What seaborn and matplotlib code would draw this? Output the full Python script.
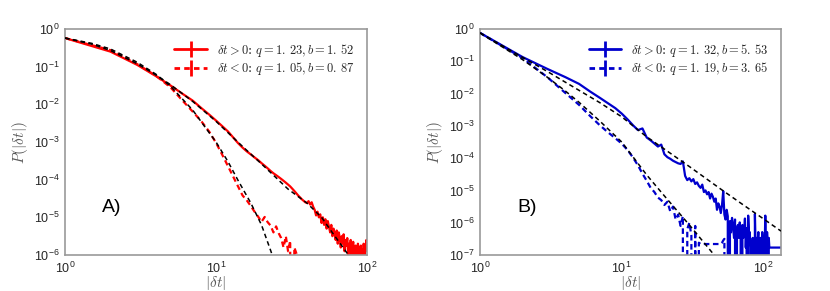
import numpy as np
import seaborn as sns
import matplotlib
matplotlib.use("Agg")
import matplotlib.pyplot as plt
from matplotlib.lines import Line2D
from matplotlib.ticker import NullFormatter

# values, as log10 P(|dt|); None = empty bin (P = 0)
a_pos_x = list(range(1, 101))
a_pos_log = [
    -0.24, -0.60, -0.95, -1.25, -1.50, -1.72, -1.90, -2.10, -2.27, -2.43,
    -2.58, -2.72, -2.88, -3.03, -3.15, -3.25, -3.33, -3.41, -3.48, -3.56,
    -3.63, -3.70, -3.77, -3.83, -3.88, -3.93, -3.98, -4.03, -4.08, -4.13,
    -4.18, -4.24, -4.30, -4.36, -4.42, -4.47, -4.52, -4.56, -4.60, -4.62,
    -4.57, -4.66, -4.60, -4.72, -4.80, -4.95, -4.85, -5.00, -4.92, -5.15,
    -5.00, -5.20, -5.05, -5.30, -5.10, -5.25, -5.40, -5.20, -5.50, -5.30,
    -5.45, -5.60, -5.35, -5.70, -5.40, -5.55, -5.80, -5.50, -5.70, -5.45,
    -5.90, -5.60, -5.75, -5.55, -6.00, -5.70, -5.85, -5.60, None, -5.80,
    -5.65, -5.90, None, -5.75, -5.90, None, -5.70, -5.85, None, -5.90,
    -5.75, None, -5.85, None, -5.70, None, -5.80, -5.90, -5.60, -5.75,
]
a_neg_x = list(range(1, 36))
a_neg_log = [
    -0.24, -0.56, -0.93, -1.24, -1.55, -1.90, -2.19, -2.45, -2.72, -3.02,
    -3.34, -3.64, -3.92, -4.18, -4.42, -4.55, -4.70, -4.85, -4.98, -5.12,
    -4.99, -5.13, -5.22, -5.40, -5.24, -5.42, -5.55, -5.80, -5.50, -5.90,
    -5.62, None, -5.80, -5.95, None,
]
a_fit_pos_x = [1, 1.5, 2, 3, 4, 5, 7, 10, 15, 20, 30, 40, 50, 60, 70, 80]
a_fit_pos_log = [-0.24, -0.40, -0.57, -0.92, -1.22, -1.48, -1.92, -2.45, -3.12,
                 -3.58, -4.25, -4.62, -5.00, -5.45, -5.82, -6.15]
a_fit_neg_x = [1, 1.5, 2, 3, 4, 5, 7, 10, 12, 14, 17, 20, 23, 25]
a_fit_neg_log = [-0.24, -0.38, -0.53, -0.88, -1.20, -1.52, -2.15, -3.00, -3.52,
                 -4.02, -4.62, -5.20, -5.88, -6.30]

b_pos_x = list(range(1, 134))
b_pos_log = [
    -0.12, -0.87, -1.24, -1.49, -1.70, -1.94, -2.13, -2.30, -2.45, -2.62,
    -2.80, -2.98, -3.13, -3.08, -3.36, -3.45, -3.55, -3.64, -3.58, -3.88,
    -3.97, -4.02, -4.08, -4.12, -4.16, -4.18, -4.10, -4.55, -4.68, -4.62,
    -4.72, -4.65, -4.80, -4.75, -4.86, -4.92, -4.82, -5.05, -5.00, -5.12,
    -5.05, -5.25, -5.10, -5.20, -5.35, -5.25, -5.60, -5.40, -5.50, -5.70,
    -5.45, -5.02, -5.75, -5.90, -5.60, -5.80, None, -5.95, -6.30, -5.85,
    -6.10, -6.47, -5.90, None, -6.17, -6.07, -6.47, -5.99, -6.29, None,
    -6.07, -6.47, -6.29, -5.87, -6.77, -6.17, None, -5.78, -6.47, -6.29,
    -6.77, None, -6.77, -6.47, -6.77, None, -5.73, -6.77, -6.47, None,
    -6.77, -6.29, None, -6.77, -6.47, -6.77, None, -6.29, -6.77, -6.47,
    None, -6.77, -5.78, -6.77, None, -6.29, -6.77, None, -6.47, -6.77,
    -6.77, -6.77, -6.77, -6.77, -6.77, -6.77, -6.77, -6.77, -6.77, -6.77,
    -6.77, -6.77, -6.77, -6.77, -6.77, -6.77, -6.77, -6.77, -6.77, -6.77,
    -6.77, -6.77, -6.77,
]
b_neg_x = list(range(1, 55))
b_neg_log = [
    -0.12, -0.90, -1.50, -1.98, -2.35, -2.70, -2.98, -3.20, -3.38, -3.55,
    -3.75, -3.98, -4.22, -4.48, -4.70, -4.92, -5.05, -5.22, -5.30, -5.45,
    -5.35, -5.65, -5.50, -5.90, -5.75, -6.10, -5.80, None, -6.20, -6.00,
    -6.40, None, -6.10, None, -6.62, -6.66, -6.66, -6.66, -6.66, -6.66,
    -6.66, -6.66, -6.66, -6.66, -6.66, -6.66, -6.66, -6.66, -6.66, -6.66,
    -6.62, -6.55, -6.50, None,
]
b_fit_pos_x = [1, 2, 3, 5, 7, 10, 13, 15, 20, 30, 50, 70, 100, 133]
b_fit_pos_log = [-0.12, -0.88, -1.32, -1.90, -2.28, -2.72, -3.12, -3.34, -3.72,
                 -4.26, -4.96, -5.41, -5.88, -6.26]
b_fit_neg_x = [1, 2, 3, 4, 5, 7, 10, 15, 20, 30, 43, 50]
b_fit_neg_log = [-0.12, -0.95, -1.50, -1.92, -2.27, -2.85, -3.50, -4.52, -5.17,
                 -6.07, -6.90, -7.25]

labels_a = [r'$\delta t>0$: $q=1.\,23, b=1.\,52$',
            r'$\delta t<0$: $q=1.\,05, b=0.\,87$']
labels_b = [r'$\delta t>0$: $q=1.\,32, b=5.\,53$',
            r'$\delta t<0$: $q=1.\,19, b=3.\,65$']
xticks_a = [1, 10, 100]
yticks_a = [1e-6, 1e-5, 1e-4, 1e-3, 1e-2, 1e-1, 1]
xticks_b = [1, 10, 100]
yticks_b = [1e-7, 1e-6, 1e-5, 1e-4, 1e-3, 1e-2, 1e-1, 1]


def prob(logs):
    # empty bins become 0, the log axis clips them below the frame
    return np.array([0.0 if v is None else 10.0 ** v for v in logs])


sns.set_style("white")
plt.rcParams['font.family'] = ['Liberation Sans', 'DejaVu Sans']
plt.rcParams['mathtext.fontset'] = 'cm'

fig = plt.figure(figsize=(8.3, 2.91), dpi=100)
ax_a = fig.add_axes([0.0783, 0.1237, 0.3639, 0.7766])
ax_b = fig.add_axes([0.5783, 0.1237, 0.3627, 0.7766])

panels = [
    (ax_a, 'red', a_pos_x, a_pos_log, a_neg_x, a_neg_log,
     a_fit_pos_x, a_fit_pos_log, a_fit_neg_x, a_fit_neg_log,
     (1, 100), (1e-6, 1), xticks_a, yticks_a, labels_a, 'A)'),
    (ax_b, '#0000cd', b_pos_x, b_pos_log, b_neg_x, b_neg_log,
     b_fit_pos_x, b_fit_pos_log, b_fit_neg_x, b_fit_neg_log,
     (1, 133), (1e-7, 1), xticks_b, yticks_b, labels_b, 'B)'),
]

for (ax, col, px, plog, nx, nlog, fpx, fplog, fnx, fnlog,
     xlim, ylim, xt, yt, labels, tag) in panels:
    sns.lineplot(x=px, y=prob(plog), ax=ax, color=col, lw=1.6,
                 estimator=None, sort=False, legend=False)
    sns.lineplot(x=nx, y=prob(nlog), ax=ax, color=col, lw=1.6,
                 linestyle=(0, (2.5, 1.6)), estimator=None, sort=False,
                 legend=False)
    for fx, flog in [(fpx, fplog), (fnx, fnlog)]:
        sns.lineplot(x=fx, y=prob(flog), ax=ax, color='black', lw=1.1,
                     linestyle=(0, (3, 2.2)), estimator=None, sort=False,
                     legend=False, zorder=3)

    ax.set_xscale('log', nonpositive='clip')
    ax.set_yscale('log', nonpositive='clip')
    ax.set_xticks(xt)
    ax.set_yticks(yt)
    ax.set_xlim(*xlim)
    ax.set_ylim(*ylim)
    ax.xaxis.set_minor_formatter(NullFormatter())
    ax.yaxis.set_minor_formatter(NullFormatter())
    ax.tick_params(which='both', length=0, labelsize=9, colors='0.15',
                   pad=4)
    for s in ax.spines.values():
        s.set_color('0.6')
        s.set_linewidth(1.2)
    ax.set_xlabel(r'$|\delta t|$', fontsize=11, color='0.35')
    ax.set_ylabel(r'$P(|\delta t|)$', fontsize=11, color='0.35')
    ax.xaxis.set_label_coords(0.5, -0.085)
    ax.yaxis.set_label_coords(-0.115, 0.5)

    handles = [
        Line2D([], [], color=col, lw=2, marker='|', markersize=12,
               markeredgewidth=2),
        Line2D([], [], color=col, lw=2, linestyle=(0, (2, 1.5)), marker='|',
               markersize=12, markeredgewidth=2),
    ]
    ax.legend(handles, labels, loc='upper right', frameon=False,
              prop={'family': 'DejaVu Serif', 'size': 9}, numpoints=1,
              handlelength=2.6, borderaxespad=0.6, labelspacing=0.15)
    ax.text(0.155, 0.21, tag, transform=ax.transAxes, fontsize=14,
            ha='center', va='center', color='black')

fig.savefig('out.png', dpi=100)
